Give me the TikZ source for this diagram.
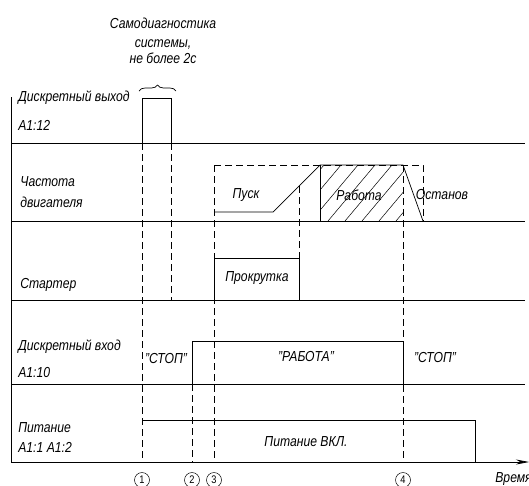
\documentclass[tikz,border=0pt]{standalone}
\usepackage{fontspec}
\setmainfont{Liberation Sans}[FakeStretch=0.84]
\usetikzlibrary{decorations.pathreplacing,arrows.meta}
\begin{document}
\begin{tikzpicture}[x=1pt,y=-1pt,line width=0.7pt,
  txt/.style={font=\itshape\fontsize{14.5}{16}\selectfont,inner sep=0pt},
  lbl/.style={txt,anchor=west},
  dsh/.style={dash pattern=on 7pt off 4pt},
  num/.style={circle,draw,line width=0.5pt,minimum size=15pt,inner sep=0pt,font=\fontsize{11}{12}\selectfont}]
\useasboundingbox (0,0) rectangle (529,485);
% axes and row separators
\draw (11,97) -- (11,462);
\draw[-{Stealth[length=13pt,width=5pt]}] (11,462) -- (529,462);
\foreach \yy in {143,221,300,384} \draw (11,\yy) -- (525,\yy);
% dashed guide lines
\draw[dsh] (142,143) -- (142,462);
\draw[dsh] (171,143) -- (171,300);
\draw[dsh] (192,384) -- (192,462);
\draw[dsh] (214,165) -- (214,462);
\draw[dsh] (403,165) -- (403,462);
\draw[dsh] (214,165) -- (423,165) -- (423,221);
\draw[dsh] (299,186) -- (299,258);
% self-diagnostic pulse
\draw (142,143) -- (142,98) -- (171,98) -- (171,143);
\draw[decorate,decoration={brace,amplitude=6pt}] (139,91) -- (176,91);
% engine frequency
\begin{scope}
\clip (320,165) rectangle (403,221);
\foreach \xx in {260,277,...,420} \draw[line width=0.5pt] (\xx,221) -- ++(47,-56);
\end{scope}
\draw (214,212) -- (273,212) -- (320,165) -- (403,165) -- (423,221);
\draw (320,165) -- (320,221);
% starter
\draw (214,300) -- (214,258) -- (299,258) -- (299,300);
% discrete input
\draw (192,384) -- (192,341) -- (403,341) -- (403,384);
% power
\draw (142,420) -- (475,420) -- (475,462);
% labels
\node[txt,align=center] (title) at (163,41) {Самодиагностика\\[3pt]системы,\\не более 2с};
\node[lbl] (l1a) at (18,98) {Дискретный выход};
\node[lbl] (l1b) at (18,125) {A1:12};
\node[lbl] (l2a) at (20,182) {Частота};
\node[lbl] (l2b) at (20,202) {двигателя};
\node[lbl] (l3) at (20,285) {Стартер};
\node[lbl] (l4a) at (18,347) {Дискретный вход};
\node[lbl] (l4b) at (18,372) {A1:10};
\node[lbl] (l5a) at (18,428) {Питание};
\node[lbl] (l5b) at (18,447) {A1:1 A1:2};
\node[txt] (pusk) at (246,195) {Пуск};
\node[txt] (rab) at (359,195) {Работа};
\node[txt] (ost) at (442,195) {Останов};
\node[txt] (prok) at (257,278) {Прокрутка};
\node[txt] (stop1) at (166,358) {"СТОП"};
\node[txt] (rabota) at (306,356) {"РАБОТА"};
\node[txt] (stop2) at (435,357) {"СТОП"};
\node[txt] (pwr) at (306,442) {Питание ВКЛ.};
\node[txt,anchor=west] (time) at (495,479) {Время};
\node[num] (n1) at (142,480) {1};
\node[num] (n2) at (192,480) {2};
\node[num] (n3) at (214,480) {3};
\node[num] (n4) at (403,480) {4};
\end{tikzpicture}
\end{document}
